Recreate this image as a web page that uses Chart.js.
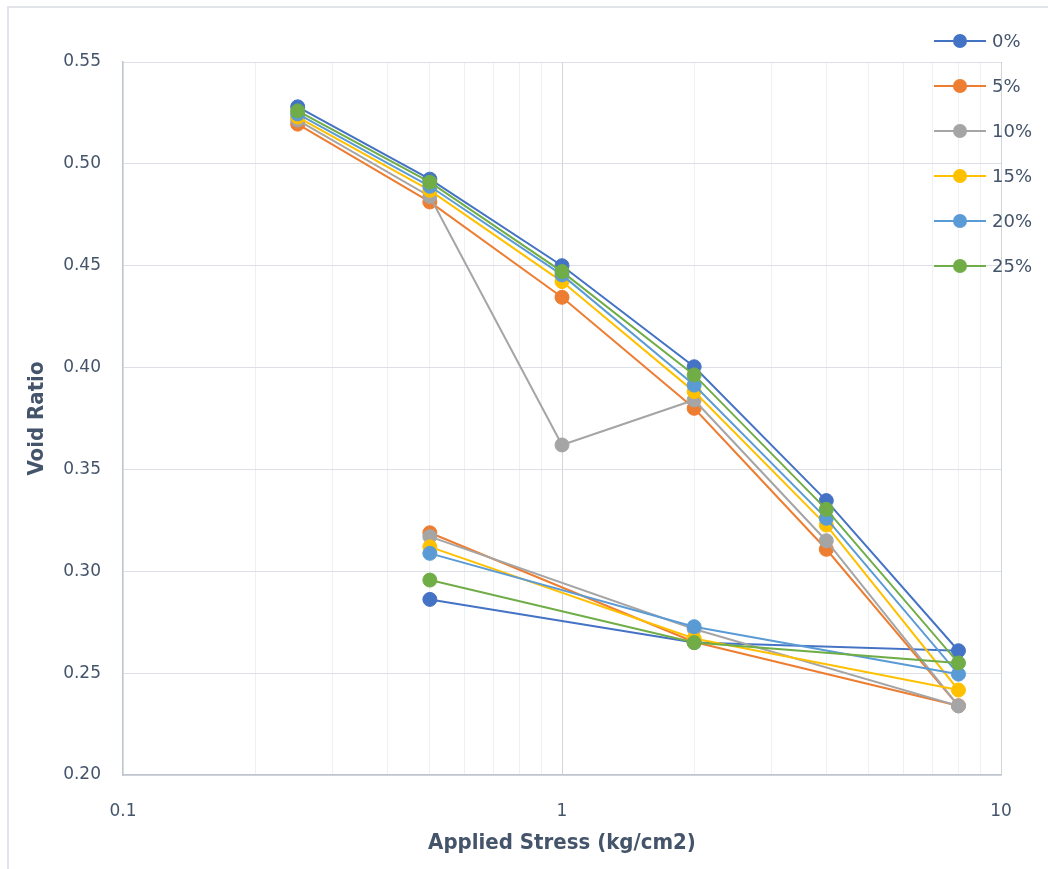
<!DOCTYPE html>
<html>
<head>
<meta charset="utf-8">
<title>Void Ratio vs Applied Stress</title>
<script src="https://cdn.jsdelivr.net/npm/chart.js@4.4.1/dist/chart.umd.min.js"></script>
<style>
  html, body { margin: 0; padding: 0; background: #ffffff; overflow: hidden; }
  #wrap { position: relative; width: 1048px; height: 869px; }
  #frame { position: absolute; left: 7px; top: 6px; width: 1100px; height: 900px;
           border-left: 2px solid #e1e4e9; border-top: 2px solid #e1e4e9; box-sizing: border-box; }
  canvas { position: absolute; left: 0; top: 0; }
</style>
</head>
<body>
<div id="wrap">
  <div id="frame"></div>
  <canvas id="chart" width="1048" height="869"></canvas>
</div>
<script>
// Load steps (kg/cm2): loading 0.25 -> 8, then unloading 8 -> 0.5
const stressSteps = [0.25, 0.5, 1, 2, 4, 8, 2, 0.5];

// Void ratio at each step, one list per additive content
const seriesNames = ['0%', '5%', '10%', '15%', '20%', '25%'];
const voidRatio0  = [0.528, 0.4925, 0.450, 0.4004, 0.3347, 0.261, 0.265, 0.2862];
const voidRatio5  = [0.5195, 0.4813, 0.4345, 0.3800, 0.3108, 0.234, 0.2653, 0.3189];
const voidRatio10 = [0.5215, 0.4840, 0.362, 0.3841, 0.3150, 0.2339, 0.2717, 0.3170];
const voidRatio15 = [0.5230, 0.4870, 0.4422, 0.3882, 0.3227, 0.2417, 0.2670, 0.3120];
const voidRatio20 = [0.5245, 0.4890, 0.4455, 0.3914, 0.3260, 0.2495, 0.2728, 0.3088];
const voidRatio25 = [0.5260, 0.4910, 0.4471, 0.3964, 0.3304, 0.2550, 0.2650, 0.2957];

const seriesColors = ['#4472C4', '#ED7D31', '#A5A5A5', '#FFC000', '#5B9BD5', '#70AD47'];

// Axis ticks
const xGridStops = [0.1, 0.2, 0.3, 0.4, 0.5, 0.6, 0.7, 0.8, 0.9,
                    1, 2, 3, 4, 5, 6, 7, 8, 9, 10];
const xLabelStops = [0.1, 1, 10];

const allSeries = [voidRatio0, voidRatio5, voidRatio10, voidRatio15, voidRatio20, voidRatio25];

const textColor = '#44546A';

const datasets = allSeries.map((vals, i) => ({
  label: seriesNames[i],
  data: stressSteps.map((s, k) => ({ x: s, y: vals[k] })),
  showLine: true,
  borderColor: seriesColors[i],
  backgroundColor: seriesColors[i],
  borderWidth: 2,
  pointRadius: 7,
  pointHoverRadius: 7,
  pointBorderWidth: 1,
  pointBorderColor: seriesColors[i],
  pointBackgroundColor: seriesColors[i],
  tension: 0,
  // later series sit on top
  order: allSeries.length - i
}));

// Legend drawn inside the top-right corner, line sample with a marker
const cornerLegend = {
  id: 'cornerLegend',
  afterDraw(chart) {
    const ctx = chart.ctx;
    ctx.save();
    chart.data.datasets.forEach((ds, i) => {
      const y = 41 + i * 45;
      ctx.strokeStyle = ds.borderColor;
      ctx.lineWidth = 2;
      ctx.beginPath();
      ctx.moveTo(934, y);
      ctx.lineTo(986, y);
      ctx.stroke();
      ctx.fillStyle = ds.backgroundColor;
      ctx.beginPath();
      ctx.arc(960, y, 7, 0, Math.PI * 2);
      ctx.fill();
      ctx.fillStyle = textColor;
      ctx.font = '18px "DejaVu Sans", sans-serif';
      ctx.textAlign = 'left';
      ctx.textBaseline = 'middle';
      ctx.fillText(ds.label, 992, y + 1);
    });
    ctx.restore();
  }
};

new Chart(document.getElementById('chart'), {
  type: 'scatter',
  data: { datasets },
  plugins: [cornerLegend],
  options: {
    responsive: false,
    animation: false,
    layout: { padding: { left: 0, right: 47, top: 62, bottom: 0 } },
    plugins: {
      legend: { display: false },
      tooltip: { enabled: false }
    },
    scales: {
      x: {
        type: 'logarithmic',
        min: 0.1,
        max: 10,
        afterBuildTicks(scale) {
          scale.ticks = xGridStops.map(v => ({ value: v, major: xLabelStops.includes(v) }));
        },
        afterFit(scale) { scale.height = 94; },
        ticks: {
          autoSkip: false,
          maxRotation: 0,
          padding: 26,
          color: textColor,
          font: { family: '"DejaVu Sans", sans-serif', size: 17 },
          callback(value) {
            return xLabelStops.includes(value) ? String(value) : '';
          }
        },
        grid: {
          drawTicks: false,
          lineWidth: 1,
          color(ctx) {
            const v = ctx.tick ? ctx.tick.value : null;
            if (v === 1 || v === 10) return '#d0d5dc';
            return '#eef0f3';
          }
        },
        border: { display: true, color: '#bfc5ce', width: 1.5 },
        title: {
          display: true,
          text: 'Applied Stress (kg/cm2)',
          color: textColor,
          font: { family: '"DejaVu Sans Condensed", "Liberation Sans Narrow", sans-serif', size: 22, weight: 'bold' },
          padding: { top: 0, bottom: 13 }
        }
      },
      y: {
        min: 0.2,
        max: 0.55,
        afterFit(scale) { scale.width = 123; },
        ticks: {
          stepSize: 0.05,
          padding: 22,
          color: textColor,
          font: { family: '"DejaVu Sans", sans-serif', size: 17 },
          callback(value) { return Number(value).toFixed(2); }
        },
        grid: {
          drawTicks: false,
          color: '#dcdfe5',
          lineWidth: 1
        },
        border: { display: true, color: '#bfc5ce', width: 1.5 },
        title: {
          display: true,
          text: 'Void Ratio',
          color: textColor,
          font: { family: '"DejaVu Sans Condensed", "Liberation Sans Narrow", sans-serif', size: 22, weight: 'bold' },
          padding: { top: 24, bottom: 0 }
        }
      }
    }
  }
});
</script>
</body>
</html>
